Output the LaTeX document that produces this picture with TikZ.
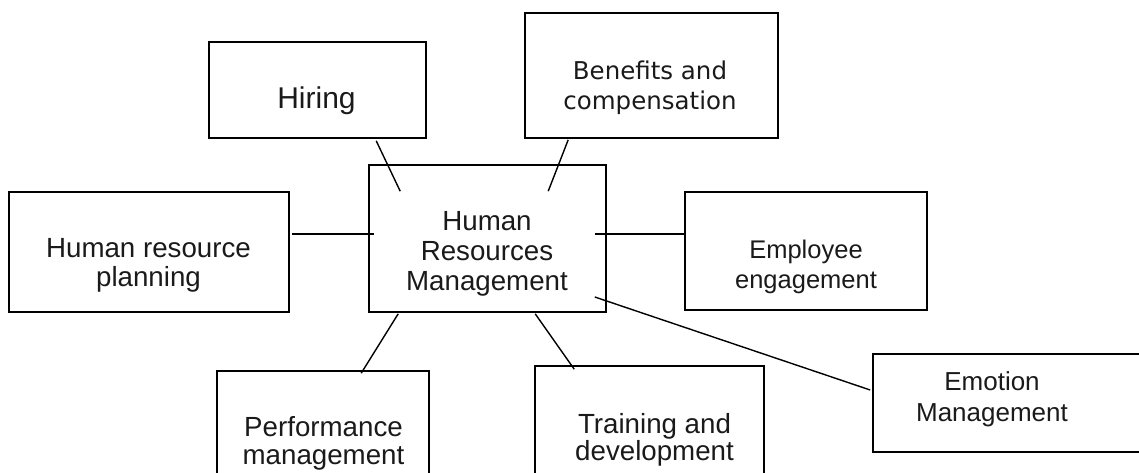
\documentclass[tikz,border=0pt]{standalone}
\usepackage{fontspec}
\setmainfont{Liberation Sans}
\newfontfamily\verd{DejaVu Sans}
\usetikzlibrary{calc}
\definecolor{ink}{HTML}{1A1A1A}
\begin{document}
\begin{tikzpicture}[x=1pt,y=-1pt,
  box/.style={draw=black, line width=1.6pt, rectangle, inner sep=0pt},
  txt/.style={anchor=north, inner sep=0pt, align=center, text=ink, font=\fontsize{25.5}{30}\selectfont},
  big/.style={font=\fontsize{27.7}{#1}\selectfont},
  link/.style={draw=black, line width=1.4pt}]
\useasboundingbox (0,0) rectangle (1139,473);
\clip (0,0) rectangle (1139,473);
% boxes
\node[box, minimum width=217pt, minimum height=96pt]  (hire)  at (317.5,90) {};
\node[box, minimum width=253pt, minimum height=125pt] (ben)   at (651.5,75.5) {};
\node[box, minimum width=237pt, minimum height=147pt] (hrm)   at (487.5,238.5) {};
\node[box, minimum width=280pt, minimum height=120pt] (plan)  at (149,252) {};
\node[box, minimum width=242pt, minimum height=118pt] (emp)   at (806,251) {};
\node[box, minimum width=287pt, minimum height=98pt]  (emo)   at (1016.5,403) {};
\node[box, minimum width=212pt, minimum height=139pt] (perf)  at (323,440.5) {};
\node[box, minimum width=229pt, minimum height=144pt] (train) at (649.5,438) {};
% texts
\node[txt, font=\fontsize{30}{34}\selectfont] (hireT) at (316.5,86.5) {Hiring};
\node[txt, font=\verd\fontsize{24.5}{30}\selectfont] (benT) at (650,60.4) {Benefits and\\compensation};
\node[txt, big=30] (hrmT) at (487,211.2) {Human\\Resources\\Management};
\node[txt, big=29] (planT) at (148.5,238.2) {Human resource\\planning};
\node[txt] (empT) at (806,239.7) {Employee\\engagement};
\node[txt, font=\fontsize{26}{31}\selectfont] (emoT) at (992,371.4) {Emotion\\Management};
\node[txt, big=28] (perfT) at (323.5,415.8) {Performance\\management};
\node[txt, big=27] (trainT) at (654.5,413.2) {Training and\\development};
% connectors
\draw[link] ($(hire.south west)+(168,2)$) -- ($(hrm.north west)+(32,27)$);
\draw[link] ($(ben.south west)+(44,1)$) -- ($(hrm.north west)+(180,27)$);
\draw[link] ($(plan.east)+(2,-18)$) -- ($(hrm.west)+(6,-4.5)$);
\draw[link] ($(hrm.east)+(-12,-4.5)$) -- ($(emp.west)+(2,-17)$);
\draw[link] ($(hrm.east)+(-12,58.5)$) -- ($(emo.west)+(-2,-13)$);
\draw[link] ($(hrm.south west)+(30,1)$) -- ($(perf.north west)+(145,3)$);
\draw[link] ($(hrm.south west)+(167,1)$) -- ($(train.north west)+(40,4)$);
\end{tikzpicture}
\end{document}
